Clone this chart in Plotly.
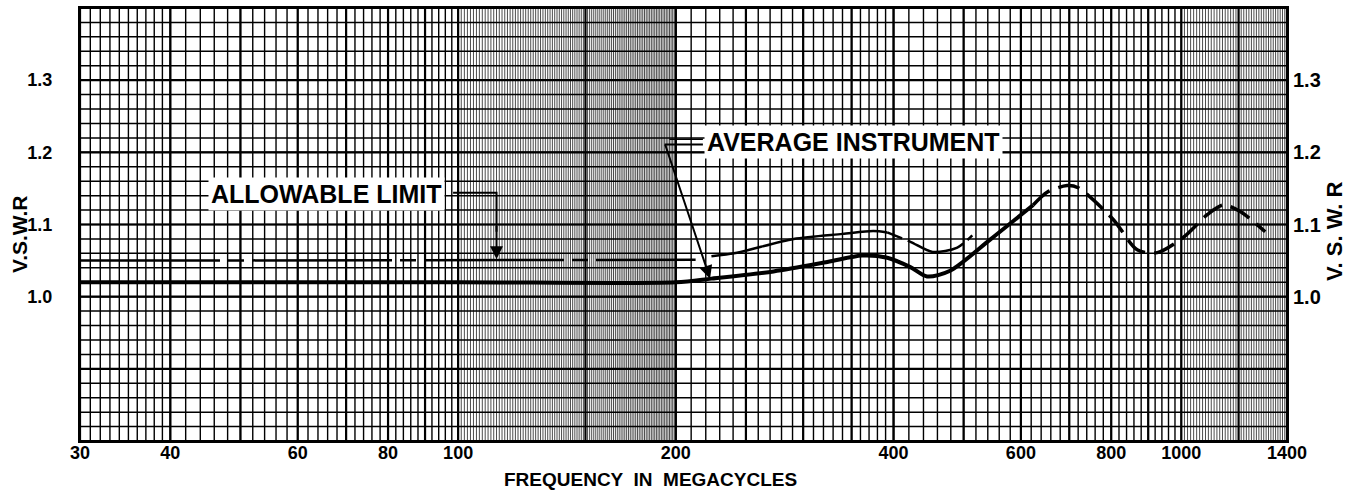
import numpy as np
import plotly.graph_objects as go

# ---------------- data ----------------
x_tick_vals = [30, 40, 60, 80, 100, 200, 400, 600, 800, 1000, 1400]
x_tick_text = ["30", "40", "60", "80", "100", "200", "400", "600", "800", "1000", "1400"]
y_tick_vals = [1.0, 1.1, 1.2, 1.3]
y_tick_text = ["1.0", "1.1", "1.2", "1.3"]

# Allowable limit (thin line)
allow_freq = [30, 60, 100, 150, 213, 224, 243, 291, 340, 375, 392, 422, 453, 490, 514]
allow_vswr = [1.05, 1.05, 1.05, 1.05, 1.051, 1.056, 1.061, 1.080, 1.087, 1.091, 1.089, 1.076, 1.062, 1.068, 1.085]

# Average instrument (heavy line)
avg_freq = [30, 100, 200, 224, 273, 324, 362, 392, 422, 445, 479, 544, 624,
            653, 695, 720, 805, 869, 926, 1006, 1087, 1143, 1206, 1306]
avg_vswr = [1.02, 1.02, 1.02, 1.025, 1.035, 1.048, 1.057, 1.054, 1.041, 1.028, 1.036, 1.079, 1.127,
            1.145, 1.154, 1.151, 1.107, 1.065, 1.061, 1.082, 1.114, 1.127, 1.118, 1.09]

X_MIN, X_MAX = 30, 1400
Y_MIN, Y_MAX = 0.8, 1.4


def seq(a, b, s):
    n = int(round((b - a) / s))
    return [a + i * s for i in range(n + 1)]


# graph-paper rulings
fine_x = seq(100, 200, 1) + seq(1000, 1400, 10)
minor_x = seq(30, 40, 1) + seq(40, 100, 2) + seq(200, 400, 10) + seq(400, 1000, 20)
major_x = [30, 40, 50, 60, 70, 80, 90, 100, 150, 200, 250, 300, 350, 400, 500, 600, 700, 800, 900, 1000, 1200, 1400]
minor_y = [round(v, 2) for v in seq(0.8, 1.4, 0.02)]
major_y = [round(v, 1) for v in seq(0.8, 1.4, 0.1)]


def vlines(xs):
    X, Y = [], []
    for v in xs:
        X += [v, v, None]
        Y += [Y_MIN, Y_MAX, None]
    return X, Y


def hlines(ys):
    X, Y = [], []
    for v in ys:
        X += [X_MIN, X_MAX, None]
        Y += [v, v, None]
    return X, Y


fig = go.Figure()

for xs, col, w in [(fine_x, "rgba(0,0,0,0.7)", 1), (minor_x, "black", 1.4), (major_x, "black", 2.2)]:
    X, Y = vlines(xs)
    fig.add_trace(go.Scatter(x=X, y=Y, mode="lines", line=dict(color=col, width=w), hoverinfo="skip"))
for ys, col, w in [(minor_y, "black", 1.5), (major_y, "black", 2.2)]:
    X, Y = hlines(ys)
    fig.add_trace(go.Scatter(x=X, y=Y, mode="lines", line=dict(color=col, width=w), hoverinfo="skip"))

# allowable limit: dashed / solid / dashed segments
fig.add_trace(go.Scatter(x=allow_freq[0:5], y=allow_vswr[0:5], mode="lines",
                         line=dict(color="black", width=2.5, dash="140px,8px,16px,8px")))
fig.add_trace(go.Scatter(x=allow_freq[5:11], y=allow_vswr[5:11], mode="lines",
                         line=dict(color="black", width=2.5, shape="spline", smoothing=0.8)))
fig.add_trace(go.Scatter(x=allow_freq[10:], y=allow_vswr[10:], mode="lines",
                         line=dict(color="black", width=2.5, shape="spline", smoothing=0.8, dash="16px,6px,60px,6px")))

# average instrument: solid then dashed
fig.add_trace(go.Scatter(x=avg_freq[0:13], y=avg_vswr[0:13], mode="lines",
                         line=dict(color="black", width=4, shape="spline", smoothing=0.8)))
fig.add_trace(go.Scatter(x=avg_freq[12:], y=avg_vswr[12:], mode="lines",
                         line=dict(color="black", width=3.5, shape="spline", smoothing=0.8, dash="22px,9px")))

# leader lines
fig.add_trace(go.Scatter(x=[98.4, 113, 113], y=[1.144, 1.144, 1.09], mode="lines",
                         line=dict(color="black", width=2), hoverinfo="skip"))
fig.add_trace(go.Scatter(x=[193, 218], y=[1.211, 1.211], mode="lines",
                         line=dict(color="black", width=2), hoverinfo="skip"))
fig.add_trace(go.Scatter(x=[196, 218], y=[1.218, 1.218], mode="lines",
                         line=dict(color="black", width=1.5), hoverinfo="skip"))

# right axis carrier
fig.add_trace(go.Scatter(x=[X_MIN], y=[1.0], mode="markers", marker=dict(opacity=0), yaxis="y2", hoverinfo="skip"))

lab_font = dict(family="Liberation Sans", size=25, color="black", weight="bold")
tick_font = dict(family="Liberation Sans", size=18, color="black", weight="bold")

annotations = [
    dict(x=np.log10(65.7), y=1.142, xref="x", yref="y", text="ALLOWABLE LIMIT", showarrow=False,
         font=lab_font, bgcolor="white", borderpad=2),
    dict(x=np.log10(352), y=1.215, xref="x", yref="y", text="AVERAGE INSTRUMENT", showarrow=False,
         font=lab_font, bgcolor="white", borderpad=2),
    dict(x=np.log10(113), y=1.052, xref="x", yref="y", ax=np.log10(113), ay=1.10, axref="x", ayref="y",
         text="", showarrow=True, arrowhead=2, arrowsize=1.3, arrowwidth=2, arrowcolor="black"),
    dict(x=np.log10(223), y=1.025, xref="x", yref="y", ax=np.log10(193), ay=1.213, axref="x", ayref="y",
         text="", showarrow=True, arrowhead=2, arrowsize=1.3, arrowwidth=2, arrowcolor="black"),
    dict(x=-0.0497, y=0.476, xref="paper", yref="paper", text="V.S.W.R", textangle=-90, showarrow=False,
         xanchor="center", yanchor="middle",
         font=dict(family="Liberation Sans", size=21, color="black", weight="bold")),
    dict(x=1.0398, y=0.485, xref="paper", yref="paper", text="V. S. W. R", textangle=-90, showarrow=False,
         xanchor="center", yanchor="middle",
         font=dict(family="Liberation Sans", size=22, color="black", weight="bold")),
    dict(x=0.4723, y=-0.09, xref="paper", yref="paper", text="FREQUENCY  IN  MEGACYCLES", showarrow=False,
         xanchor="center", yanchor="middle",
         font=dict(family="Liberation Sans", size=19, color="black", weight="bold")),
]

fig.update_layout(
    width=1350, height=491,
    margin=dict(l=80, r=63, t=8, b=50, autoexpand=False),
    paper_bgcolor="white", plot_bgcolor="white",
    showlegend=False,
    xaxis=dict(type="log", range=[np.log10(X_MIN), np.log10(X_MAX)], tickvals=x_tick_vals, ticktext=x_tick_text,
               showgrid=False, zeroline=False, showline=True, linecolor="black", linewidth=2, mirror=True,
               ticks="", ticklen=0, tickfont=tick_font, ticklabelstandoff=-6, automargin=False),
    yaxis=dict(range=[Y_MIN, Y_MAX], tickvals=y_tick_vals, ticktext=y_tick_text,
               showgrid=False, zeroline=False, showline=True, linecolor="black", linewidth=2, mirror=True,
               ticks="", ticklen=0, tickfont=tick_font, ticklabelstandoff=22, automargin=False),
    yaxis2=dict(range=[Y_MIN, Y_MAX], overlaying="y", side="right", tickvals=y_tick_vals, ticktext=y_tick_text,
                showgrid=False, zeroline=False, showline=False, ticks="", ticklen=0, automargin=False,
                tickfont=dict(family="Liberation Sans", size=20, color="black", weight="bold"), ticklabelstandoff=5),
    annotations=annotations,
)

fig.write_html("out.html", config={"displayModeBar": False},
               post_script="document.body.style.margin='0';document.body.style.padding='0';")
